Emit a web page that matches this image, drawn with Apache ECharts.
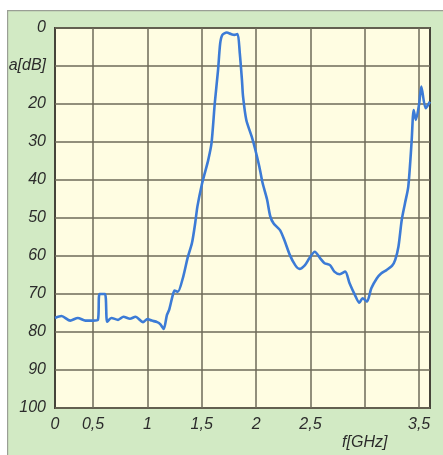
<!DOCTYPE html>
<html>
<head>
<meta charset="utf-8">
<script src="https://cdn.jsdelivr.net/npm/echarts@6/dist/echarts.min.js"></script>
<style>
  html, body { margin: 0; padding: 0; background: #ffffff; }
  #chart { width: 443px; height: 455px; }
</style>
</head>
<body>
<div id="chart"></div>
<script>
// Attenuation response a[dB] over frequency f[GHz]
const freqGHz = [
  0.15, 0.21, 0.29, 0.36, 0.43, 0.50, 0.545, 0.56, 0.61, 0.63,
  0.67, 0.73, 0.78, 0.84, 0.89, 0.96, 1.00, 1.04, 1.09, 1.12,
  1.15, 1.18, 1.20, 1.23, 1.25, 1.28, 1.33, 1.37, 1.41, 1.44,
  1.46, 1.50, 1.53, 1.56, 1.59, 1.62, 1.65, 1.67, 1.69, 1.73,
  1.77, 1.80, 1.83, 1.85, 1.87, 1.88, 1.91, 1.96, 1.99, 2.03,
  2.06, 2.10, 2.13, 2.16, 2.22, 2.26, 2.31, 2.36, 2.40, 2.45,
  2.49, 2.54, 2.59, 2.63, 2.68, 2.72, 2.77, 2.82, 2.86, 2.91,
  2.95, 2.98, 3.02, 3.06, 3.11, 3.15, 3.20, 3.25, 3.28, 3.31,
  3.34, 3.37, 3.40, 3.43, 3.45, 3.47, 3.50, 3.52, 3.56, 3.60
];
const attenDB = [
  76.3, 75.8, 77.0, 76.3, 77.0, 77.0, 76.8, 70.0, 70.0, 77.3,
  76.3, 76.8, 76.0, 76.5, 76.0, 77.4, 76.6, 77.0, 77.4, 78.0,
  79.2, 75.5, 74.2, 70.7, 69.1, 69.4, 65.4, 60.5, 56.6, 51.3,
  47.0, 41.3, 38.0, 34.7, 30.3, 19.8, 11.1, 4.0, 1.8, 1.2,
  1.6, 1.8, 1.6, 6.6, 13.7, 18.0, 24.2, 28.6, 31.7, 36.5,
  40.8, 45.0, 49.5, 51.4, 53.2, 55.8, 59.7, 62.4, 63.4, 62.4,
  60.6, 58.9, 60.6, 61.9, 62.4, 64.1, 64.8, 64.1, 67.2, 70.3,
  72.3, 71.1, 72.0, 68.5, 65.9, 64.6, 63.7, 62.6, 61.0, 57.5,
  50.5, 46.1, 41.8, 30.3, 21.6, 24.2, 20.0, 15.4, 21.1, 19.4
];

// Axis ticks and labels
const xGridValues = [0.5, 1, 1.5, 2, 2.5, 3, 3.5];
const xLabelValues = [0.15, 0.5, 1, 1.5, 2, 2.5, 3, 3.5];
const xLabelText = ['0', '0,5', '1', '1,5', '2', '2,5', '', '3,5'];
const xAxisName = 'f[GHz]';
const yAxisName = 'a[dB]';

const points = freqGHz.map((f, i) => [f, attenDB[i]]);
const labelFont = {
  fontFamily: 'Liberation Sans, Arial, sans-serif',
  fontStyle: 'italic',
  fontSize: 16,
  color: '#2b2b2b'
};

const chart = echarts.init(document.getElementById('chart'), null, { renderer: 'canvas' });
chart.setOption({
  backgroundColor: '#ffffff',
  animation: false,
  graphic: [{
    type: 'rect',
    left: 7, top: 10,
    shape: { width: 440, height: 450 },
    style: { fill: '#d2eac4', stroke: '#9a9f95', lineWidth: 1.2 },
    z: -10
  }],
  grid: {
    left: 55, top: 28, right: 13, bottom: 47,
    show: true,
    backgroundColor: '#fffde2',
    borderColor: '#46443a',
    borderWidth: 2
  },
  xAxis: {
    type: 'value',
    min: 0.15,
    max: 3.6,
    axisLine: { show: false },
    axisTick: { show: false, customValues: xGridValues },
    splitLine: { show: true, lineStyle: { color: '#6e6a58', width: 1.5 } },
    axisLabel: Object.assign({
      customValues: xLabelValues,
      margin: 8,
      formatter: function (v) {
        const i = xLabelValues.findIndex(x => Math.abs(x - v) < 1e-6);
        if (i < 0) return '';
        if (Math.abs(v - 3) < 1e-6) return '\n' + xAxisName;
        return xLabelText[i];
      },
      lineHeight: 18
    }, labelFont)
  },
  yAxis: {
    type: 'value',
    inverse: true,
    min: 0,
    max: 100,
    interval: 10,
    axisLine: { show: false },
    axisTick: { show: false },
    splitLine: { show: true, lineStyle: { color: '#6e6a58', width: 1.5 } },
    axisLabel: Object.assign({
      margin: 9,
      formatter: function (v) { return v === 10 ? yAxisName : String(v); }
    }, labelFont)
  },
  series: [{
    type: 'line',
    data: points,
    showSymbol: false,
    smooth: 0.25,
    lineStyle: { color: '#3c7bd6', width: 2.6 },
    z: 5
  }]
});
</script>
</body>
</html>
